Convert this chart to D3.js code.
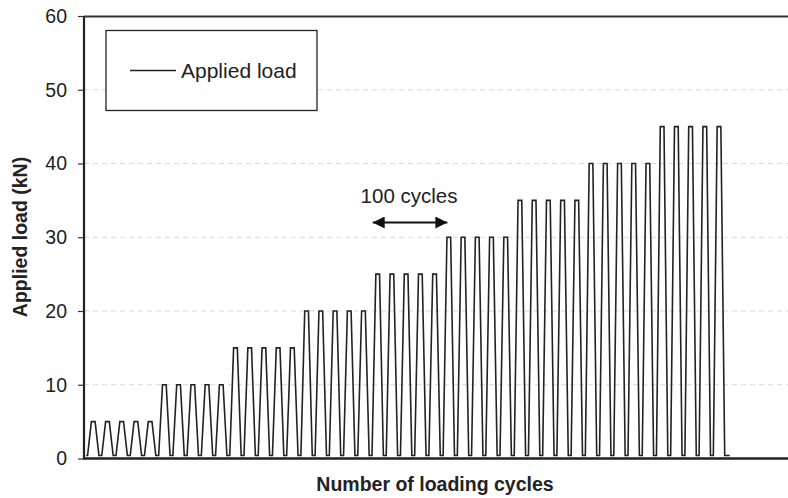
<!DOCTYPE html>
<html>
<head>
<meta charset="utf-8">
<script src="https://cdn.jsdelivr.net/npm/d3@7"></script>
<style>
  body { margin: 0; background: #fff; }
  svg { font-family: "Liberation Sans", Arial, sans-serif; }
</style>
</head>
<body>
<script>
// load levels (kN), 5 pulses drawn per level, each level = 100 cycles
var loadLevels = [5, 10, 15, 20, 25, 30, 35, 40, 45];
var pulsesPerLevel = 5;
var cyclesPerLevel = 100;
var baseLoad = 0.4;       // load between pulses
var startCycle = 3;       // first pulse starts here
var endCycle = 908;       // line stops here
// one pulse: [phase within pulse, fraction of peak]
var pulseShape = [[0, 0], [0.1, 0], [0.37, 1], [0.63, 1], [0.9, 0]];
var yTicks = [0, 10, 20, 30, 40, 50, 60];

var width = 788, height = 498;
var margin = {left: 84, top: 16, right: 0, bottom: 39.5};

var svg = d3.select('body').append('svg')
  .attr('width', width)
  .attr('height', height);

var x = d3.scaleLinear().domain([0, 990]).range([margin.left, width - margin.right]);
var y = d3.scaleLinear().domain([0, 60]).range([height - margin.bottom, margin.top]);

// build the waveform from the levels
var pulseCycles = cyclesPerLevel / pulsesPerLevel;
var points = [];
loadLevels.forEach(function(level, li) {
  for (var p = 0; p < pulsesPerLevel; p++) {
    var c0 = startCycle + (li * pulsesPerLevel + p) * pulseCycles;
    pulseShape.forEach(function(s) {
      points.push([c0 + s[0] * pulseCycles, baseLoad + s[1] * (level - baseLoad)]);
    });
  }
});
points.push([endCycle, baseLoad]);

// grid lines
svg.append('g').selectAll('line')
  .data(yTicks.filter(function(d) { return d > 0 && d < 60; }))
  .enter().append('line')
  .attr('x1', margin.left).attr('x2', width)
  .attr('y1', function(d) { return y(d); })
  .attr('y2', function(d) { return y(d); })
  .attr('stroke', '#d9d9d9')
  .attr('stroke-width', 1)
  .attr('stroke-dasharray', '5,4');

// y axis
var yAxis = svg.append('g')
  .attr('transform', 'translate(' + margin.left + ',0)')
  .call(d3.axisLeft(y).tickValues(yTicks).tickSize(6).tickPadding(11).tickFormat(d3.format('d')));
yAxis.select('.domain').remove();
yAxis.selectAll('.tick line').attr('stroke', '#333').attr('stroke-width', 1.2);
yAxis.selectAll('.tick text')
  .attr('font-size', 19.5)
  .attr('fill', '#222')
  .style('font-family', '"Liberation Sans", Arial, sans-serif');

// frame: left, bottom, top
svg.append('line')
  .attr('x1', margin.left).attr('x2', margin.left)
  .attr('y1', y(60)).attr('y2', y(0) + 1)
  .attr('stroke', '#222').attr('stroke-width', 2.2);
svg.append('line')
  .attr('x1', margin.left - 1).attr('x2', width)
  .attr('y1', y(0)).attr('y2', y(0))
  .attr('stroke', '#222').attr('stroke-width', 2.6);
svg.append('line')
  .attr('x1', margin.left).attr('x2', width)
  .attr('y1', y(60) + 0.5).attr('y2', y(60) + 0.5)
  .attr('stroke', '#333').attr('stroke-width', 1.8);

// series
var line = d3.line()
  .x(function(d) { return x(d[0]); })
  .y(function(d) { return y(d[1]); });

svg.append('path')
  .datum(points)
  .attr('d', line)
  .attr('fill', 'none')
  .attr('stroke', '#222')
  .attr('stroke-width', 1.6)
  .attr('stroke-linejoin', 'miter');

// legend
var legend = svg.append('g');
legend.append('rect')
  .attr('x', 106).attr('y', 30.5)
  .attr('width', 211).attr('height', 80)
  .attr('fill', '#fff')
  .attr('stroke', '#222').attr('stroke-width', 1.3);
legend.append('line')
  .attr('x1', 130).attr('x2', 176)
  .attr('y1', 70.5).attr('y2', 70.5)
  .attr('stroke', '#222').attr('stroke-width', 1.3);
legend.append('text')
  .attr('x', 181).attr('y', 78)
  .attr('font-size', 21)
  .attr('fill', '#222')
  .text('Applied load');

// 100 cycles annotation
var arrowFrom = 406, arrowTo = 511, arrowLoad = 32;
var defs = svg.append('defs');
defs.append('marker')
  .attr('id', 'ah')
  .attr('viewBox', '0 0 10 10')
  .attr('refX', 10).attr('refY', 5)
  .attr('markerWidth', 14).attr('markerHeight', 12)
  .attr('markerUnits', 'userSpaceOnUse')
  .attr('orient', 'auto-start-reverse')
  .append('path')
  .attr('d', 'M0,0 L10,5 L0,10 Z')
  .attr('fill', '#111');
svg.append('line')
  .attr('x1', x(arrowFrom)).attr('x2', x(arrowTo))
  .attr('y1', y(arrowLoad)).attr('y2', y(arrowLoad))
  .attr('stroke', '#111').attr('stroke-width', 1.8)
  .attr('marker-start', 'url(#ah)')
  .attr('marker-end', 'url(#ah)');
svg.append('text')
  .attr('x', x((arrowFrom + arrowTo) / 2) - 1)
  .attr('y', 203)
  .attr('text-anchor', 'middle')
  .attr('font-size', 20.5)
  .attr('fill', '#222')
  .text('100 cycles');

// axis titles
svg.append('text')
  .attr('x', 435).attr('y', 491)
  .attr('text-anchor', 'middle')
  .attr('font-size', 19.5)
  .attr('font-weight', 'bold')
  .attr('fill', '#222')
  .text('Number of loading cycles');
svg.append('text')
  .attr('transform', 'translate(27,' + 237 + ') rotate(-90)')
  .attr('text-anchor', 'middle')
  .attr('font-size', 19.5)
  .attr('font-weight', 'bold')
  .attr('fill', '#222')
  .text('Applied load (kN)');
</script>
</body>
</html>
